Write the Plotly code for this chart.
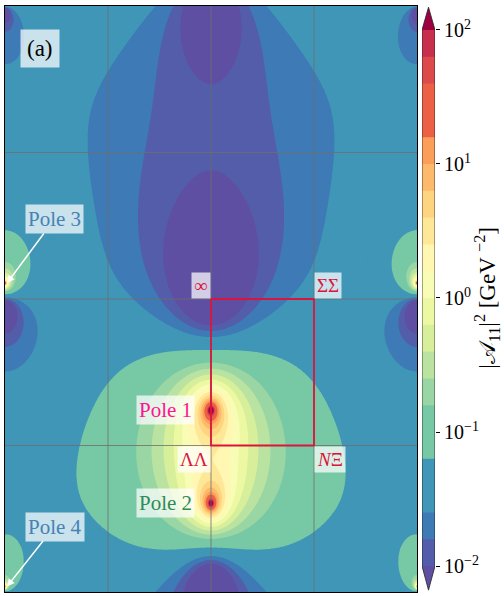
import numpy as np
import plotly.graph_objects as go

# ---------------------------------------------------------------
# |A_11|^2 on the uniformized plane (doubly periodic, periods 4 and 4i)
# built from its poles and zeros
# ---------------------------------------------------------------
pole_x = [0.0, 0.0, 2.0, 2.0]
pole_y = [-0.76, -1.395, 0.109, -1.962]          # Pole 1, Pole 2, Pole 3, Pole 4
zero_x = [0.0, 0.0, 2.0, 2.0]
zero_y = [0.06, -1.96, -0.07, -2.038]
log10_norm = -1.69                               # overall normalisation of |A_11|^2

# threshold points and the physical-sheet boundary
thr_names = ["∞", "ΣΣ", "<i>N</i>Ξ", "ΛΛ"]
thr_x = [0.0, 1.0, 1.0, 0.0]
thr_y = [0.0, 0.0, -1.0, -1.0]

# colour-bar ticks (log10 of |A_11|^2 in GeV^-2)
cb_ticks = [-2, -1, 0, 1, 2]
cb_ticktext = ["10<sup>−2</sup>", "10<sup>−1</sup>", "10<sup>0</sup>", "10<sup>1</sup>", "10<sup>2</sup>"]

Q = np.exp(-np.pi)                               # nome for tau = i


def theta1(v):
    s = np.zeros(np.shape(v), complex)
    for n in range(6):
        s = s + (-1) ** n * Q ** ((n + 0.5) ** 2) * np.sin((2 * n + 1) * v)
    return 2 * s


def log_amp2(w):
    acc = np.zeros(np.shape(w))
    with np.errstate(all="ignore"):
        for x0, y0 in zip(zero_x, zero_y):
            acc += np.log(np.abs(theta1(np.pi * (w - (x0 + 1j * y0)) / 4)))
        for x0, y0 in zip(pole_x, pole_y):
            acc -= np.log(np.abs(theta1(np.pi * (w - (x0 + 1j * y0)) / 4)))
    return log10_norm + 2 * acc / np.log(10)


xs = np.linspace(-2, 2, 401)
ys = np.linspace(-2, 2, 571)
X, Y = np.meshgrid(xs, ys)
Z = log_amp2(X + 1j * Y)
Z = np.clip(np.nan_to_num(Z, nan=3, posinf=3, neginf=-3), -3, 3).round(3)

# ---- Spectral_r, one colour per band (plus under/over colours) ----
spec = ["#9e0142", "#d53e4f", "#f46d43", "#fdae61", "#fee08b", "#ffffbf",
        "#e6f598", "#abdda4", "#66c2a5", "#3288bd", "#5e4fa2"][::-1]


def cmap(t):
    rgb = np.array([[int(h[i:i + 2], 16) for i in (1, 3, 5)] for h in spec], float)
    pos = np.linspace(0, 1, len(spec))
    c = [np.interp(t, pos, rgb[:, j]) for j in range(3)]
    return "rgb(%d,%d,%d)" % tuple(round(v) for v in c)


lev_start, lev_end, lev_size = -2.0, 2.0, 0.2
nb = 20
band_cols = [cmap(0)] + [cmap((k + 0.5) / nb) for k in range(nb)] + [cmap(1)]
edges = [0.0] + [(0.4 + 0.2 * j) / 4.2 for j in range(-1, nb - 1)] + [0.99999, 1.0]
scale = []
for j, col in enumerate(band_cols):
    scale.append([edges[j], col])
    scale.append([edges[j + 1], col])

contours = dict(start=lev_start, end=lev_end, size=lev_size, coloring="fill", showlines=False)

fig = go.Figure()
fig.add_trace(go.Contour(x=xs, y=ys, z=Z, contours=contours, colorscale=scale,
                         showscale=False, line=dict(width=0), hoverinfo="skip"))

# grid lines drawn over the filled contours
gx, gy = [], []
for v in [-1, 0, 1]:
    gx += [v, v, None]; gy += [-2, 2, None]
    gx += [-2, 2, None]; gy += [v, v, None]
fig.add_trace(go.Scatter(x=gx, y=gy, mode="lines", line=dict(color="rgba(110,110,110,0.8)", width=1),
                         hoverinfo="skip", showlegend=False))

# physical-sheet rectangle through the thresholds
fig.add_trace(go.Scatter(x=thr_x + thr_x[:1], y=thr_y + thr_y[:1], mode="lines",
                         line=dict(color="#dc143c", width=1.8), hoverinfo="skip", showlegend=False))

# ---- colour bar on its own axes ----
cb_y = np.linspace(-2, 2, 201)
fig.add_trace(go.Contour(x=[0, 1], y=cb_y, z=np.column_stack([cb_y, cb_y]), contours=contours,
                         colorscale=scale, showscale=False, line=dict(width=0),
                         xaxis="x2", yaxis="y2", hoverinfo="skip"))
fig.add_trace(go.Scatter(x=[0, 0.5, 1, 0], y=[2, 2.17, 2, 2], fill="toself", fillcolor=cmap(1),
                         mode="lines", line=dict(width=0), xaxis="x2", yaxis="y2",
                         hoverinfo="skip", showlegend=False))
fig.add_trace(go.Scatter(x=[0, 0.5, 1, 0], y=[-2, -2.18, -2, -2], fill="toself", fillcolor=cmap(0),
                         mode="lines", line=dict(width=0), xaxis="x2", yaxis="y2",
                         hoverinfo="skip", showlegend=False))
fig.add_trace(go.Scatter(x=[0, 0.5, 1, 1, 0.5, 0, 0], y=[2, 2.17, 2, -2, -2.18, -2, 2], mode="lines",
                         line=dict(color="#222", width=0.8), xaxis="x2", yaxis="y2",
                         hoverinfo="skip", showlegend=False))

FONT = "Liberation Serif, DejaVu Serif, serif"
W_, H_ = 504, 596
ml, mr, mt, mb = 5, 4, 6, 4
pw = W_ - ml - mr
axis_common = dict(range=[-2, 2], showgrid=False, zeroline=False, showticklabels=False,
                   ticks="", showline=True, mirror=True, linecolor="black", linewidth=1)
fig.update_layout(
    width=W_, height=H_, margin=dict(l=ml, r=mr, t=mt, b=mb),
    paper_bgcolor="white", plot_bgcolor="white", showlegend=False,
    font=dict(family=FONT, color="black"),
    xaxis=dict(domain=[0, 412 / pw], **axis_common),
    yaxis=dict(domain=[0, 1], **axis_common),
    xaxis2=dict(domain=[(422 - ml) / pw, (435 - ml) / pw], range=[0, 1], visible=False, anchor="y2"),
    yaxis2=dict(domain=[0, 1], range=[-2.194, 2.179], anchor="x2", side="right",
                tickvals=cb_ticks, ticktext=cb_ticktext,
                ticks="outside", ticklen=4, tickcolor="black", showgrid=False, zeroline=False,
                showline=False, tickfont=dict(size=20, family=FONT)),
)

box = "rgba(255,255,255,0.72)"
ann = []
thr_anchor = [("right", "bottom"), ("left", "bottom"), ("left", "top"), ("right", "top")]
for name, x, y, (xa, ya) in zip(thr_names, thr_x, thr_y, thr_anchor):
    ann.append(dict(x=x, y=y, text=name, showarrow=False, xanchor=xa, yanchor=ya,
                    font=dict(size=19, color="#dc143c"), bgcolor=box, borderpad=2))
ann.append(dict(x=pole_x[0] - 0.155, y=pole_y[0], text="Pole 1", showarrow=False, xanchor="right",
                yanchor="middle", font=dict(size=21, color="#ff1493"), bgcolor=box, borderpad=2))
ann.append(dict(x=pole_x[1] - 0.155, y=pole_y[1], text="Pole 2", showarrow=False, xanchor="right",
                yanchor="middle", font=dict(size=21, color="#2e8b57"), bgcolor=box, borderpad=2))
for txt, ty_, hy in [("Pole 3", 0.546, pole_y[2]), ("Pole 4", -1.553, pole_y[3])]:
    ann.append(dict(x=-1.98, y=hy, ax=-1.519, ay=ty_, axref="x", ayref="y", text=txt,
                    showarrow=True, arrowcolor="white", arrowwidth=1.5, arrowhead=2,
                    arrowsize=1, standoff=0, font=dict(size=21, color="#4682b4"),
                    bgcolor=box, borderpad=2))
ann.append(dict(x=-1.66, y=1.713, text="(a)", showarrow=False, xanchor="center", yanchor="middle",
                font=dict(size=23), bgcolor=box, borderpad=6))
ann.append(dict(x=(487 - ml) / pw, y=0.502, xref="paper", yref="paper", showarrow=False,
                xanchor="center", yanchor="middle",
                text="|𝒜<sub>11</sub>|<sup>2</sup> [GeV <sup>−2</sup>]", textangle=-90,
                font=dict(size=23)))
fig.update_layout(annotations=ann)
fig.write_html("out.html")
